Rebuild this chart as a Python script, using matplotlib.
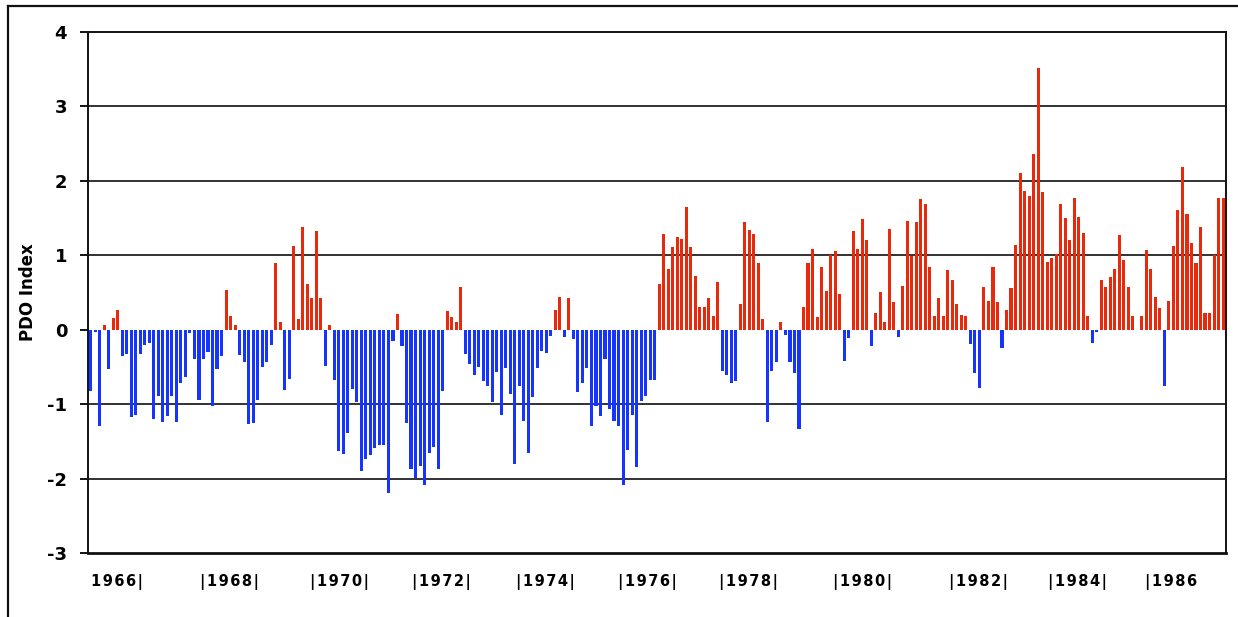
import numpy as np
import matplotlib
matplotlib.use("Agg")
import matplotlib.pyplot as plt
from matplotlib.lines import Line2D

# Monthly PDO index, Jan..Dec for each year
pdo_1966 = [-0.82, -0.03, -1.29, 0.06, -0.53, 0.16, 0.26, -0.35, -0.33, -1.17, -1.15, -0.32]
pdo_1967 = [-0.20, -0.18, -1.20, -0.89, -1.24, -1.16, -0.89, -1.24, -0.72, -0.64, -0.05, -0.40]
pdo_1968 = [-0.95, -0.40, -0.30, -1.03, -0.53, -0.35, 0.53, 0.19, 0.06, -0.34, -0.44, -1.27]
pdo_1969 = [-1.26, -0.95, -0.50, -0.44, -0.20, 0.89, 0.10, -0.81, -0.66, 1.12, 0.15, 1.38]
pdo_1970 = [0.61, 0.43, 1.33, 0.43, -0.49, 0.06, -0.68, -1.63, -1.67, -1.39, -0.80, -0.97]
pdo_1971 = [-1.90, -1.74, -1.68, -1.59, -1.55, -1.55, -2.20, -0.15, 0.21, -0.22, -1.25, -1.87]
pdo_1972 = [-1.99, -1.83, -2.09, -1.65, -1.57, -1.87, -0.83, 0.25, 0.17, 0.11, 0.57, -0.33]
pdo_1973 = [-0.46, -0.61, -0.50, -0.69, -0.76, -0.97, -0.57, -1.14, -0.51, -0.87, -1.81, -0.76]
pdo_1974 = [-1.22, -1.65, -0.90, -0.52, -0.28, -0.31, -0.08, 0.27, 0.44, -0.10, 0.43, -0.12]
pdo_1975 = [-0.84, -0.71, -0.51, -1.30, -1.02, -1.16, -0.40, -1.07, -1.23, -1.29, -2.08, -1.61]
pdo_1976 = [-1.14, -1.85, -0.96, -0.89, -0.68, -0.67, 0.61, 1.28, 0.82, 1.11, 1.25, 1.22]
pdo_1977 = [1.65, 1.11, 0.72, 0.30, 0.31, 0.42, 0.19, 0.64, -0.55, -0.61, -0.72, -0.69]
pdo_1978 = [0.34, 1.45, 1.34, 1.29, 0.90, 0.15, -1.24, -0.56, -0.44, 0.10, -0.07, -0.43]
pdo_1979 = [-0.58, -1.33, 0.30, 0.89, 1.09, 0.17, 0.84, 0.52, 1.00, 1.06, 0.48, -0.42]
pdo_1980 = [-0.11, 1.32, 1.09, 1.49, 1.20, -0.22, 0.23, 0.51, 0.10, 1.35, 0.37, -0.10]
pdo_1981 = [0.59, 1.46, 0.99, 1.45, 1.75, 1.69, 0.84, 0.18, 0.42, 0.18, 0.80, 0.67]
pdo_1982 = [0.34, 0.20, 0.19, -0.19, -0.58, -0.78, 0.58, 0.39, 0.84, 0.37, -0.25, 0.26]
pdo_1983 = [0.56, 1.14, 2.11, 1.87, 1.80, 2.36, 3.51, 1.85, 0.91, 0.96, 1.02, 1.69]
pdo_1984 = [1.50, 1.21, 1.77, 1.52, 1.30, 0.18, -0.18, -0.03, 0.67, 0.58, 0.71, 0.82]
pdo_1985 = [1.27, 0.94, 0.57, 0.19, 0.00, 0.18, 1.07, 0.81, 0.44, 0.29, -0.75, 0.38]
pdo_1986 = [1.12, 1.61, 2.18, 1.55, 1.16, 0.89, 1.38, 0.22, 0.22, 1.00, 1.77, 1.77]

label_years = [1966, 1968, 1970, 1972, 1974, 1976, 1978, 1980, 1982, 1984, 1986]
# where the year labels sit, in months from Jan 1966 (as placed in the original)
label_pos = [5.9, 30.7, 55.1, 77.7, 100.9, 123.3, 145.9, 171.1, 196.8, 218.7, 239.5]
y_ticks = [-3, -2, -1, 0, 1, 2, 3, 4]

values = np.array(pdo_1966 + pdo_1967 + pdo_1968 + pdo_1969 + pdo_1970 + pdo_1971 + pdo_1972
                  + pdo_1973 + pdo_1974 + pdo_1975 + pdo_1976 + pdo_1977 + pdo_1978 + pdo_1979
                  + pdo_1980 + pdo_1981 + pdo_1982 + pdo_1983 + pdo_1984 + pdo_1985 + pdo_1986)
months = np.arange(len(values))

RED = "#e8290b"
BLUE = "#1535ff"

fig = plt.figure(figsize=(12.38, 6.17), dpi=100)
ax = fig.add_axes([88 / 1238, 1 - 553 / 617, (1226 - 88) / 1238, (553 - 32) / 617])

colors = [RED if v >= 0 else BLUE for v in values]
ax.bar(months, values, width=0.68, color=colors, zorder=3)

ax.set_xlim(-0.6, len(values) - 0.35)
ax.set_ylim(-3, 4)

# horizontal grid (no line at zero)
for y in y_ticks:
    if y not in (0, -3, 4):
        ax.axhline(y, color="#222222", lw=1.3, zorder=1)

ax.set_yticks(y_ticks)
ax.set_yticklabels([str(t) for t in y_ticks], fontsize=13, fontweight="bold")
ax.tick_params(axis="y", length=6, width=1.3, pad=9)

# year labels, with a little letter spacing like the original
xlabels = []
for y in label_years:
    if y == label_years[0]:
        s = f"{y}|"
    elif y == label_years[-1]:
        s = f"|{y}"
    else:
        s = f"|{y}|"
    xlabels.append("\u200a".join(s))
ax.set_xticks(label_pos)
ax.set_xticklabels(xlabels, fontsize=10.5, fontweight="bold")
ax.tick_params(axis="x", length=0, pad=15)

ax.set_ylabel("PDO Index", fontsize=12, fontweight="bold")
ax.yaxis.set_label_coords(-0.045, 0.5)

for s in ax.spines.values():
    s.set_linewidth(1.4)
    s.set_color("#111111")
ax.spines["bottom"].set_linewidth(2)

# outer frame lines (top and left)
fig.add_artist(Line2D([8 / 1238, 1], [1 - 6 / 617, 1 - 6 / 617], color="#111111", lw=1.6,
                      transform=fig.transFigure))
fig.add_artist(Line2D([8 / 1238, 8 / 1238], [0, 1 - 6 / 617], color="#111111", lw=1.6,
                      transform=fig.transFigure))

fig.savefig("out.png", dpi=100)
